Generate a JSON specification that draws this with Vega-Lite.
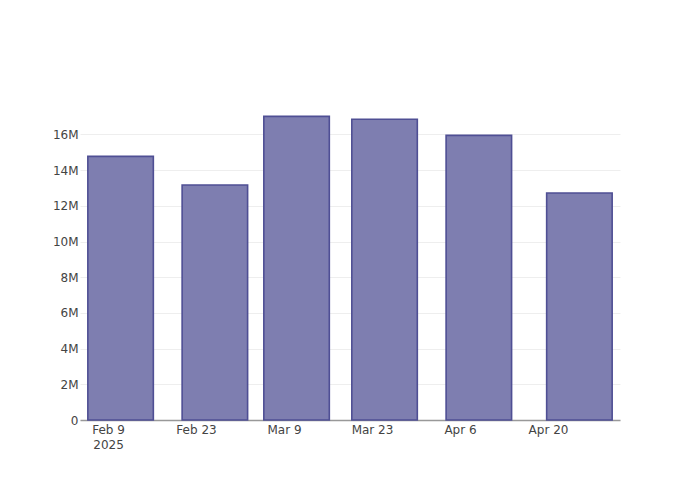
{
  "$schema": "https://vega.github.io/schema/vega-lite/v6.json",
  "width": 540,
  "height": 320,
  "autosize": {"type": "none"},
  "padding": {"left": 80, "top": 100, "right": 80, "bottom": 80},
  "background": "white",
  "config": {
    "view": {"stroke": null},
    "font": "DejaVu Sans"
  },
  "data": {
    "values": [
      {"date": "2025-02-11", "value": 14770000},
      {"date": "2025-02-26", "value": 13170000},
      {"date": "2025-03-11", "value": 17010000},
      {"date": "2025-03-25", "value": 16850000},
      {"date": "2025-04-09", "value": 15950000},
      {"date": "2025-04-25", "value": 12720000}
    ]
  },
  "mark": {
    "type": "bar",
    "width": 65.5,
    "fill": "#7e7eb0",
    "stroke": "#4f4f94",
    "strokeWidth": 1.6
  },
  "encoding": {
    "x": {
      "field": "date",
      "type": "temporal",
      "scale": {
        "type": "utc",
        "nice": false,
        "padding": 0,
        "domain": [
          {"year": 2025, "month": 2, "date": 4, "hours": 13, "utc": true},
          {"year": 2025, "month": 5, "date": 1, "hours": 11, "utc": true}
        ]
      },
      "axis": {
        "title": null,
        "values": [
          {"year": 2025, "month": 2, "date": 9, "utc": true},
          {"year": 2025, "month": 2, "date": 23, "utc": true},
          {"year": 2025, "month": 3, "date": 9, "utc": true},
          {"year": 2025, "month": 3, "date": 23, "utc": true},
          {"year": 2025, "month": 4, "date": 6, "utc": true},
          {"year": 2025, "month": 4, "date": 20, "utc": true}
        ],
        "labelExpr": "datum.index == 0 ? [utcFormat(datum.value, '%b %-d'), '2025'] : utcFormat(datum.value, '%b %-d')",
        "grid": false,
        "ticks": false,
        "domainColor": "#999999",
        "domainWidth": 1.5,
        "labelColor": "#444444",
        "labelFontSize": 12,
        "labelPadding": 4,
        "labelLineHeight": 15,
        "labelFlush": false,
        "labelOverlap": false
      }
    },
    "y": {
      "field": "value",
      "type": "quantitative",
      "scale": {"domain": [0, 17930000], "nice": false},
      "axis": {
        "title": null,
        "values": [0, 2000000, 4000000, 6000000, 8000000, 10000000, 12000000, 14000000, 16000000],
        "labelExpr": "datum.value == 0 ? '0' : format(datum.value, '~s')",
        "domain": false,
        "ticks": false,
        "gridColor": "#eeeeee",
        "gridWidth": 1,
        "labelColor": "#444444",
        "labelFontSize": 12,
        "labelPadding": 2
      }
    }
  }
}
